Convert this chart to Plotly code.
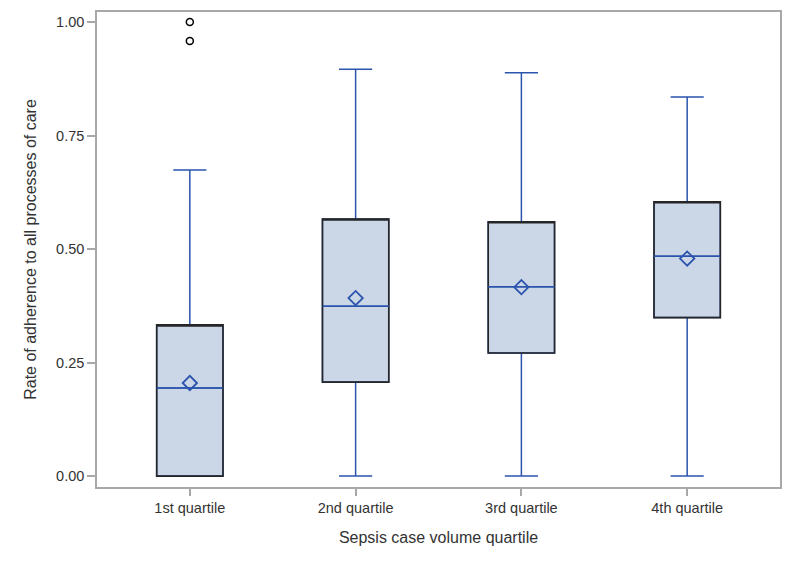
import plotly.graph_objects as go

# box statistics
quartiles = ["1st quartile", "2nd quartile", "3rd quartile", "4th quartile"]
q1 = [0.0, 0.207, 0.271, 0.349]
median = [0.194, 0.374, 0.417, 0.484]
q3 = [0.333, 0.566, 0.560, 0.604]
lower_whisker = [0.0, 0.0, 0.0, 0.0]
upper_whisker = [0.674, 0.896, 0.888, 0.835]
means = [0.205, 0.392, 0.416, 0.479]
outlier_x = ["1st quartile", "1st quartile"]
outlier_y = [1.0, 0.958]

BLUE = "#2B54AD"
FILL = "#CBD6E6"
DARK = "#262626"
GRAY = "#A8A8A8"
FONT = "Liberation Sans, Arial, sans-serif"

fig = go.Figure()

# whiskers + median in blue, with the filled box
fig.add_trace(go.Box(
    x=quartiles, q1=q1, median=median, q3=q3,
    lowerfence=lower_whisker, upperfence=upper_whisker,
    fillcolor=FILL, line=dict(color=BLUE, width=1.5),
    width=0.4, whiskerwidth=0.5, boxpoints=False,
    hoverinfo="skip", showlegend=False,
))

# dark box outline drawn on top (no whiskers)
fig.add_trace(go.Box(
    x=quartiles, q1=q1, median=q3, q3=q3,
    lowerfence=q1, upperfence=q3,
    fillcolor="rgba(0,0,0,0)", line=dict(color=DARK, width=1.6),
    width=0.4, whiskerwidth=0, boxpoints=False,
    hoverinfo="skip", showlegend=False,
))

# blue median redrawn over the outline
fig.add_trace(go.Box(
    x=quartiles, q1=median, median=median, q3=median,
    lowerfence=median, upperfence=median,
    fillcolor="rgba(0,0,0,0)", line=dict(color=BLUE, width=1.5),
    width=0.4, whiskerwidth=0, boxpoints=False,
    hoverinfo="skip", showlegend=False,
))

fig.add_trace(go.Scatter(
    x=quartiles, y=means, mode="markers",
    marker=dict(symbol="diamond-open", size=11, color=BLUE, line=dict(width=1.8)),
    showlegend=False, hoverinfo="skip",
))

fig.add_trace(go.Scatter(
    x=outlier_x, y=outlier_y, mode="markers",
    marker=dict(symbol="circle-open", size=7, color="black", line=dict(width=1.5)),
    showlegend=False, hoverinfo="skip",
))

# the page body adds an 8px offset, margins compensate for it
fig.update_layout(
    width=800, height=567,
    margin=dict(l=89, r=28, t=4, b=88),
    paper_bgcolor="white", plot_bgcolor="white",
    font=dict(family=FONT, size=14, color="#333333"),
    boxmode="overlay",
    xaxis=dict(
        type="category", range=[-0.56, 3.56], automargin=False,
        title=dict(text="Sepsis case volume quartile", font=dict(size=16), standoff=17),
        showline=True, linecolor=GRAY, linewidth=1.5, mirror=True,
        ticks="outside", ticklen=7, tickcolor=GRAY, tickwidth=1.5,
        showgrid=False, zeroline=False,
        tickfont=dict(size=14.5, color="#333333"),
    ),
    yaxis=dict(
        range=[-0.024, 1.022], automargin=False,
        tickvals=[0, 0.25, 0.5, 0.75, 1.0], tickformat=".2f",
        title=dict(text="Rate of adherence to all processes of care", font=dict(size=16), standoff=16),
        showline=True, linecolor=GRAY, linewidth=1.5, mirror=True,
        ticks="outside", ticklen=8, tickcolor=GRAY, tickwidth=1.5,
        showgrid=False, zeroline=False,
        tickfont=dict(size=14.5, color="#333333"),
    ),
)

fig.write_html("out.html")
